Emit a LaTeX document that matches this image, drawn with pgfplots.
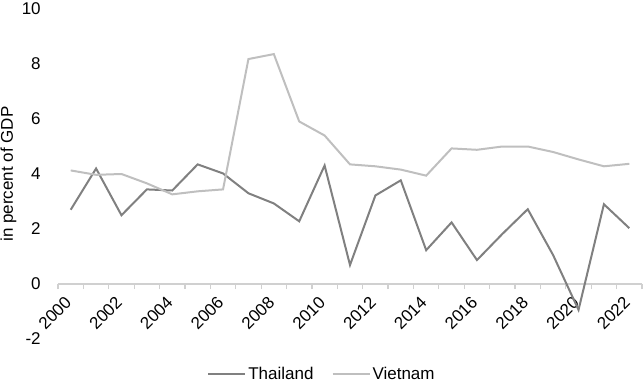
\documentclass[border=0pt]{standalone}
\usepackage{pgfplots}
\pgfplotsset{compat=1.18}
\usepackage{fontspec}
\setmainfont{Liberation Sans}
\definecolor{thai}{HTML}{808080}
\definecolor{viet}{HTML}{BFBFBF}
\definecolor{axisgray}{HTML}{D0D0D0}
\begin{document}
\begin{tikzpicture}
\begin{axis}[
  at={(0,0)}, anchor=south west,
  scale only axis, width=584pt, height=330pt,
  font=\fontsize{17}{20}\selectfont,
  /pgf/number format/assume math mode=true,
  xmin=-0.5, xmax=22.5, ymin=-2, ymax=10,
  axis x line=middle, axis y line=left,
  every inner x axis line/.append style={-, draw=axisgray, line width=1.2pt},
  every outer y axis line/.append style={draw=none},
  ytick={-2,0,2,4,6,8,10},
  ytick style={draw=none},
  yticklabel style={xshift=-9.5pt},
  xtick={0,2,...,22},
  xticklabels={2000,2002,2004,2006,2008,2010,2012,2014,2016,2018,2020,2022},
  major x tick style={draw=none},
  minor xtick={-0.5,0.5,...,22.5},
  minor x tick style={draw=axisgray, line width=1.2pt},
  minor tick length=5pt,
  tick align=outside,
  xticklabel style={rotate=45, anchor=east},
  xticklabel shift=9pt,
  ylabel={in percent of GDP},
  y label style={at={(axis description cs:-0.0848,0.5)}, anchor=center},
  legend columns=2,
  legend style={draw=none, fill=none, at={(axis description cs:0.452,-0.106)}, anchor=center,
    /tikz/every even column/.append style={column sep=16pt}},
  legend image code/.code={\draw[#1] (0pt,0pt) -- (37pt,0pt);},
  clip=false,
]
\addplot[thai, line width=2pt] coordinates {
(0,2.70) (1,4.20) (2,2.50) (3,3.44) (4,3.40) (5,4.35) (6,4.02) (7,3.30) (8,2.93) (9,2.28) (10,4.31) (11,0.69) (12,3.22) (13,3.77) (14,1.23) (15,2.24) (16,0.87) (17,1.82) (18,2.72) (19,1.05) (20,-0.94) (21,2.90) (22,2.03)
};
\addlegendentry{Thailand}
\addplot[viet, line width=2pt] coordinates {
(0,4.13) (1,3.97) (2,4.00) (3,3.66) (4,3.26) (5,3.37) (6,3.44) (7,8.18) (8,8.36) (9,5.91) (10,5.40) (11,4.35) (12,4.28) (13,4.16) (14,3.94) (15,4.93) (16,4.88) (17,5.00) (18,5.00) (19,4.80) (20,4.53) (21,4.28) (22,4.37)
};
\addlegendentry{Vietnam}
\end{axis}
\pgfresetboundingbox
\path (-58pt,-47pt) rectangle (586pt,339pt);
\end{tikzpicture}
\end{document}
